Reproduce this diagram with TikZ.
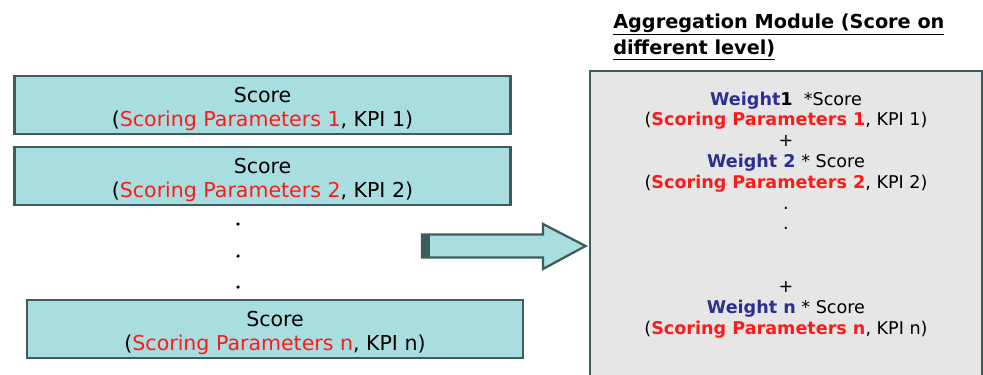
\documentclass[tikz,border=0pt]{standalone}
\usepackage{fontspec}
\setmainfont{DejaVu Sans}
\usepackage{xcolor}
\usepackage{tikz}
\usetikzlibrary{calc}
\definecolor{aqua}{HTML}{A9DEE1}
\definecolor{slate}{HTML}{3D5C5C}
\definecolor{panel}{HTML}{E6E6E6}
\definecolor{wblue}{HTML}{2B2F8F}
\definecolor{pred}{HTML}{FF1A1A}
\tikzset{
  scorebox/.style={draw=slate,fill=aqua,line width=2pt,inner sep=0pt,align=center,
    minimum width=12.4cm,minimum height=1.45cm,font=\fontsize{14.6}{17}\selectfont},
  aggbox/.style={draw=slate,fill=panel,line width=2pt,inner sep=0pt,minimum width=9.8cm,minimum height=7.8cm},
  aggtxt/.style={align=center,inner sep=0pt,font=\fontsize{12.5}{14.8}\selectfont},
  title/.style={align=left,inner sep=0pt,font=\bfseries\fontsize{13.7}{19.2}\selectfont},
  vdot/.style={circle,fill=black,inner sep=0pt,minimum size=2.5pt},
  bigarrow/.style={draw=slate,fill=aqua,line width=1.6pt,line join=miter},
}
\newcommand{\scpar}[1]{\textcolor{pred}{Scoring Parameters #1}}
\newcommand{\bscpar}[1]{\textcolor{pred}{\textbf{Scoring Parameters #1}}}
\newcommand{\wt}[1]{\textcolor{wblue}{\textbf{Weight #1}}}
\newcommand{\sclines}[1]{\rule{0pt}{16.6pt}Score\\(\scpar{#1}, KPI #1)}

\begin{document}
\begin{tikzpicture}[x=0.025cm,y=-0.025cm]
    \useasboundingbox (0,0) rectangle (983,374);
    \clip (0,0) rectangle (983,374);
    % left column of scores
    \node[scorebox] (s1) at (262.5,105) {\sclines{1}};
    \node[scorebox] (s2) at (262.5,176) {\sclines{2}};
    \node[scorebox] (sn) at (275,329) {\sclines{n}};
    \node[vdot] (d1) at (238,224) {};
    \node[vdot] (d2) at (238,256) {};
    \node[vdot] (d3) at (238,287) {};
    % aggregation panel
    \node[aggbox] (agg) at (786,227) {};
    \node[title,anchor=base west] (head) at (613,55)
      {\underline{Aggregation Module (Score on}\\\underline{different level)}};
    % base anchor sits on the last line
    \node[aggtxt,anchor=base] (sum) at (786,334)
      {\textcolor{wblue}{\textbf{Weight}}\textbf{1} \ *Score\\
       (\bscpar{1}, KPI 1)\\
       +\\
       \wt{2} * Score\\
       (\bscpar{2}, KPI 2)\\
       .\\
       .\\[29.6pt]
       +\\
       \wt{n} * Score\\
       (\bscpar{n}, KPI n)};
    % block arrow
    \coordinate (tail) at (422,246);
    \coordinate (tip) at ($(agg.west |- tail)+(-3,0)$);
    \draw[bigarrow] ($(tail)+(0,-11.5)$) -- ($(tail)+(121,-11.5)$) -- ($(tail)+(121,-22)$)
      -- (tip) -- ($(tail)+(121,23)$) -- ($(tail)+(121,11.5)$)
      -- ($(tail)+(0,11.5)$) -- cycle;
    \fill[slate] ($(tail)+(0,-11.5)$) rectangle ($(tail)+(8,11.5)$);
  \end{tikzpicture}
\end{document}
